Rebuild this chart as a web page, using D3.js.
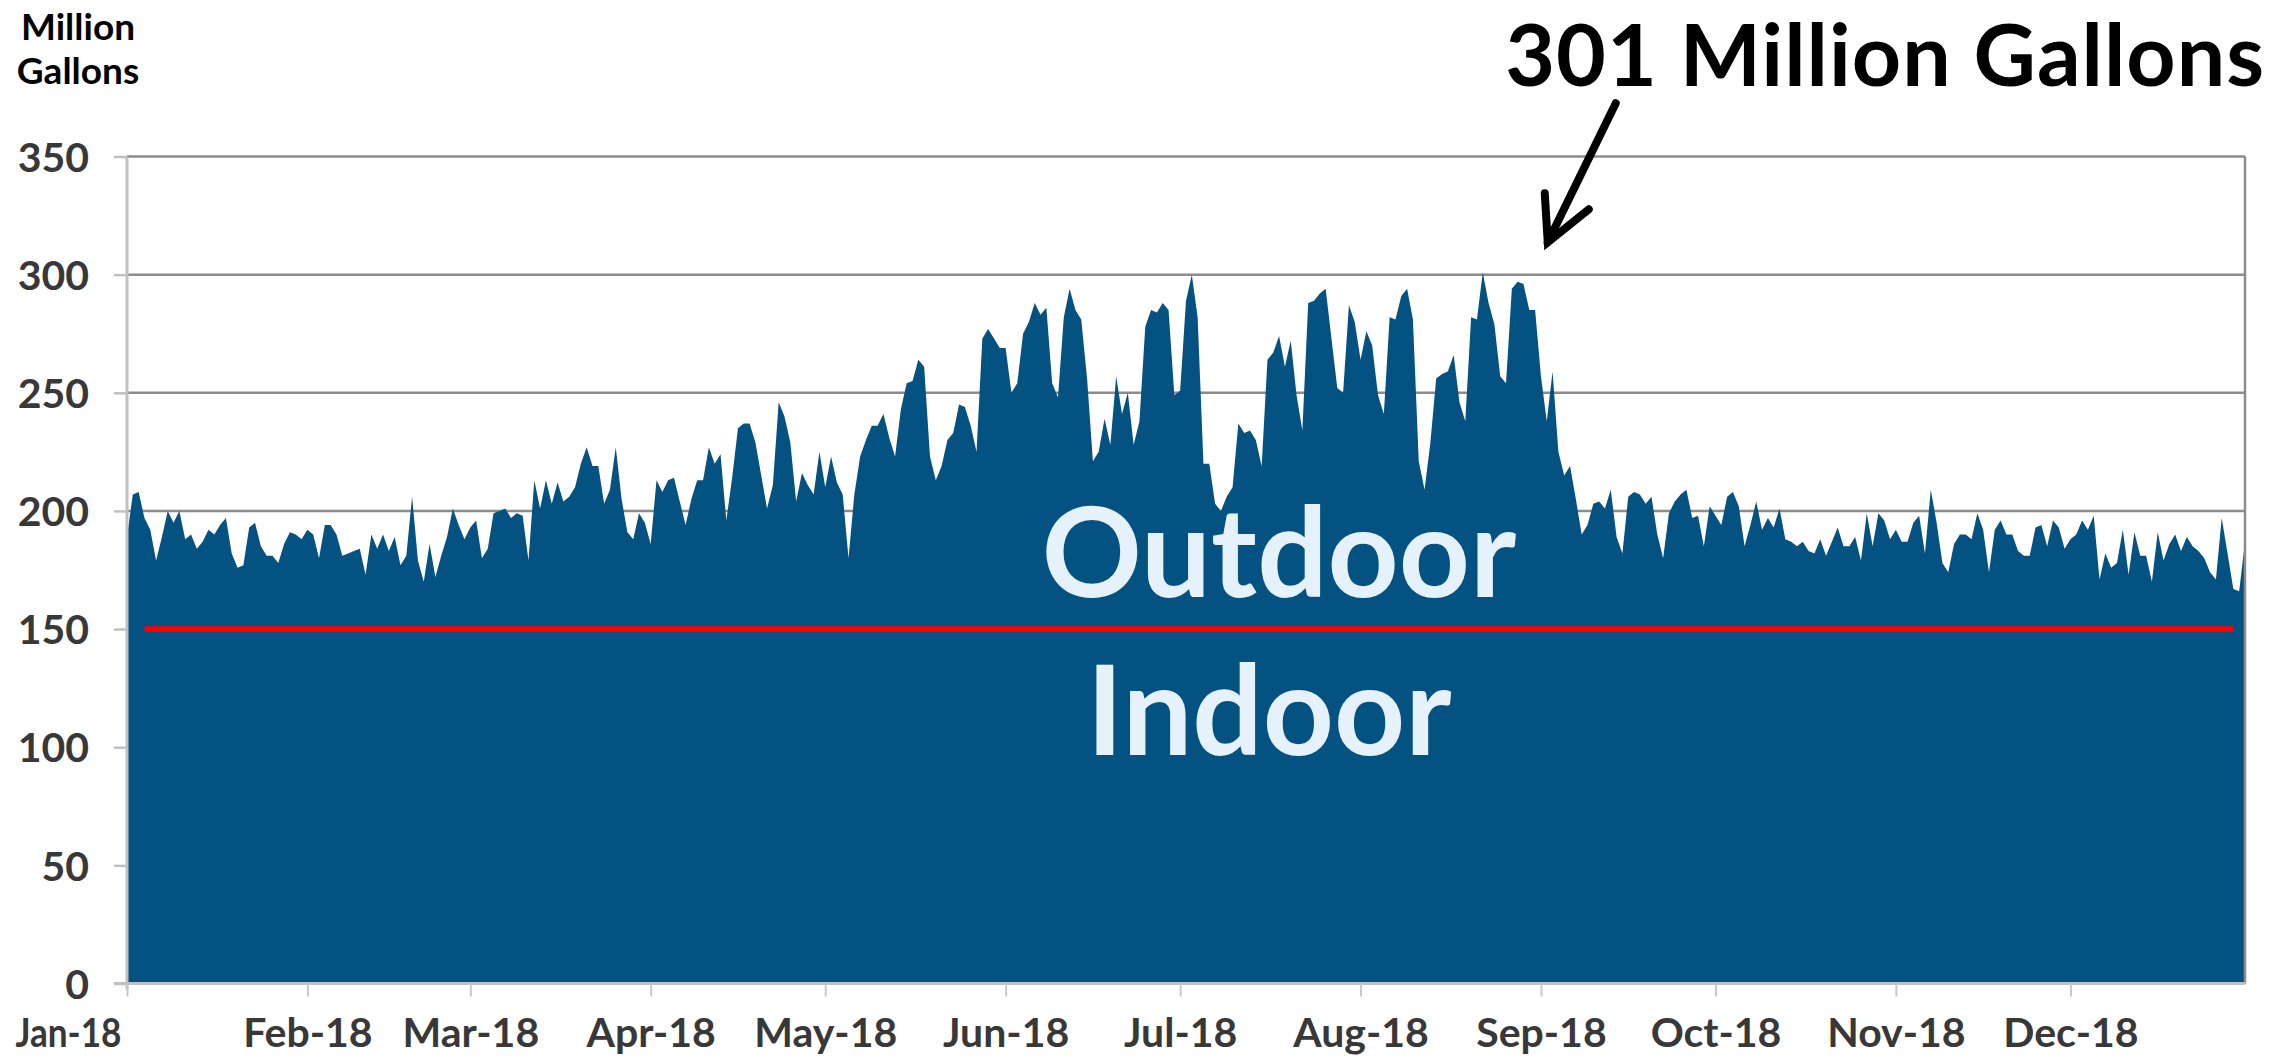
<!DOCTYPE html>
<html>
<head>
<meta charset="utf-8">
<script src="https://cdn.jsdelivr.net/npm/d3@7"></script>
<style>
  html, body { margin: 0; padding: 0; background: #fff; }
  svg { display: block; font-family: Lato, 'Open Sans', sans-serif; }
</style>
</head>
<body>
<svg id="chart"></svg>
<script>
// daily water production, million gallons, 2018 (one array per month)
const jan = [189, 207, 208, 197, 192, 179, 189, 200, 195, 200, 188, 190, 184, 187, 192, 190, 194, 197, 182, 176, 177, 193, 195, 185, 181, 181, 178, 186, 191, 190, 188];
const feb = [192, 190, 180, 194, 194, 190, 181, 182, 183, 184, 173, 190, 184, 190, 183, 189, 177, 181, 206, 179, 170, 186, 172, 181, 189, 201, 194, 188];
const mar = [193, 196, 180, 184, 199, 200, 201, 197, 199, 198, 179, 213, 201, 213, 203, 212, 204, 206, 210, 220, 227, 219, 219, 203, 209, 227, 205, 191, 188, 199, 195];
const apr = [186, 213, 208, 213, 214, 204, 194, 205, 213, 213, 227, 220, 224, 196, 214, 235, 237, 237, 229, 215, 201, 211, 246, 240, 229, 204, 216, 211, 207, 225];
const may = [210, 223, 212, 207, 180, 207, 223, 230, 236, 236, 241, 231, 223, 243, 254, 255, 264, 261, 223, 213, 219, 230, 233, 245, 244, 236, 225, 273, 277, 273, 269];
const jun = [269, 250, 254, 275, 280, 288, 283, 286, 254, 248, 282, 294, 285, 281, 256, 221, 225, 239, 228, 257, 241, 250, 228, 238, 278, 285, 284, 288, 285, 249];
const jul = [251, 289, 300, 282, 220, 220, 203, 200, 206, 210, 237, 233, 234, 230, 219, 264, 267, 274, 261, 272, 249, 234, 288, 289, 292, 294, 273, 252, 250, 287, 280];
const aug = [264, 276, 270, 249, 241, 282, 281, 291, 294, 281, 221, 209, 229, 256, 258, 259, 266, 246, 238, 282, 281, 301, 288, 279, 257, 254, 294, 297, 296, 285, 285];
const sep = [257, 238, 259, 225, 215, 219, 205, 190, 194, 203, 204, 201, 209, 189, 182, 206, 208, 207, 203, 206, 190, 180, 199, 204, 207, 209, 197, 198, 185, 202];
const oct = [198, 194, 206, 208, 202, 185, 194, 204, 192, 197, 193, 201, 188, 187, 185, 187, 183, 182, 188, 181, 187, 193, 185, 185, 189, 179, 199, 185, 199, 196, 188];
const nov = [192, 187, 187, 195, 198, 182, 209, 195, 178, 174, 186, 190, 190, 188, 199, 192, 174, 192, 196, 190, 190, 183, 181, 181, 193, 194, 185, 196, 193, 184];
const dec = [188, 190, 196, 192, 198, 171, 182, 176, 178, 192, 173, 191, 181, 181, 170, 191, 179, 186, 190, 183, 189, 185, 183, 180, 174, 171, 197, 182, 167, 166, 187];

const months = [jan, feb, mar, apr, may, jun, jul, aug, sep, oct, nov, dec];
const monthLabels = ['Jan-18', 'Feb-18', 'Mar-18', 'Apr-18', 'May-18', 'Jun-18', 'Jul-18', 'Aug-18', 'Sep-18', 'Oct-18', 'Nov-18', 'Dec-18'];
const yTicks = [0, 50, 100, 150, 200, 250, 300, 350];

// indoor base demand line
const indoorLevel = 150;
const indoorSpan = ['2018-01-04', '2018-12-29'];

const peakLabel = '301 Million Gallons';
const peakDate = '2018-08-22';
const peakValue = 301;

const config = {
  w: 2277,
  h: 1057,
  left: 127,
  right: 2245,
  top: 156.5,
  bottom: 983.5
};

function createVisualization({w, h, left, right, top, bottom}) {
  const parse = d3.timeParse('%Y-%m-%d');

  const data = months.flatMap((values, m) =>
    values.map((v, d) => ({date: new Date(2018, m, d + 1), value: v})));

  const x = d3.scaleTime()
    .domain([data[0].date, data[data.length - 1].date])
    .range([left, right]);

  const y = d3.scaleLinear()
    .domain([0, 350])
    .range([bottom, top]);

  const svg = d3.select('#chart')
    .attr('width', w)
    .attr('height', h);

  // gridlines (behind the area)
  svg.append('g')
    .selectAll('line')
    .data(yTicks.filter(t => t > 0))
    .join('line')
    .attr('x1', left)
    .attr('x2', right)
    .attr('y1', d => y(d))
    .attr('y2', d => y(d))
    .style('stroke', '#8c8c8c')
    .style('stroke-width', 2.5);

  const area = d3.area()
    .x(d => x(d.date))
    .y0(y(0))
    .y1(d => y(d.value));

  svg.append('path')
    .datum(data)
    .attr('d', area)
    .style('fill', '#045282');

  // right border
  svg.append('line')
    .attr('x1', right)
    .attr('x2', right)
    .attr('y1', y(350))
    .attr('y2', y(0))
    .style('stroke', '#8c8c8c')
    .style('stroke-width', 2.5);

  // y axis
  const yAxis = svg.append('g')
    .attr('transform', `translate(${left},0)`)
    .call(d3.axisLeft(y).tickValues(yTicks).tickSize(13).tickSizeOuter(0).tickPadding(0).tickFormat(d3.format('d')));

  yAxis.select('.domain')
    .attr('d', `M0,${y(350)}V${y(0) + 6}`)
    .style('stroke', '#c0c0c0')
    .style('stroke-width', 3);

  yAxis.selectAll('.tick line')
    .style('stroke', '#c0c0c0')
    .style('stroke-width', 2.5);

  yAxis.selectAll('.tick text')
    .attr('x', -38)
    .attr('dy', '0.36em')
    .style('font-family', 'Lato, sans-serif')
    .style('font-size', '41px')
    .style('font-weight', 'bold')
    .style('fill', '#383838');

  // x axis, one tick per month
  const monthStarts = monthLabels.map((_, i) => new Date(2018, i, 1));

  const xAxis = svg.append('g')
    .attr('transform', `translate(0,${bottom})`)
    .call(d3.axisBottom(x).tickValues(monthStarts).tickSize(13).tickSizeOuter(0).tickFormat((d, i) => monthLabels[i]));

  xAxis.select('.domain')
    .attr('d', `M${left - 13},0H${right}`)
    .style('stroke', '#c0c0c0')
    .style('stroke-width', 3);

  xAxis.selectAll('.tick line')
    .style('stroke', '#c8c8c8')
    .style('stroke-width', 2);

  xAxis.selectAll('.tick text')
    .attr('y', 63)
    .attr('dy', 0)
    .attr('text-anchor', (d, i) => i === 0 ? 'end' : 'middle')
    .attr('x', (d, i) => i === 0 ? -6 : 0)
    .style('font-family', 'Lato, sans-serif')
    .style('font-size', '41px')
    .style('font-weight', 'bold')
    .style('fill', '#383838');

  // first label is squeezed left of the axis, as in the original
  xAxis.select('.tick text')
    .attr('textLength', 106)
    .attr('lengthAdjust', 'spacingAndGlyphs');

  // indoor / outdoor split
  svg.append('line')
    .attr('x1', x(parse(indoorSpan[0])))
    .attr('x2', x(parse(indoorSpan[1])))
    .attr('y1', y(indoorLevel))
    .attr('y2', y(indoorLevel))
    .style('stroke', '#ff0000')
    .style('stroke-width', 5.5);

  svg.append('text')
    .attr('x', 1279)
    .attr('y', 597)
    .attr('text-anchor', 'middle')
    .style('font-size', '124px')
    .style('font-weight', 'bold')
    .style('fill', '#e6f2fb')
    .text('Outdoor');

  svg.append('text')
    .attr('x', 1269)
    .attr('y', 755)
    .attr('text-anchor', 'middle')
    .style('font-size', '124px')
    .style('font-weight', 'bold')
    .style('fill', '#e6f2fb')
    .text('Indoor');

  // unit label
  svg.append('text')
    .attr('text-anchor', 'middle')
    .style('font-size', '37px')
    .style('font-weight', 'bold')
    .style('fill', '#000')
    .selectAll('tspan')
    .data(['Million', 'Gallons'])
    .join('tspan')
    .attr('x', 78)
    .attr('y', (d, i) => 40 + i * 44)
    .text(d => d);

  // peak annotation
  svg.append('text')
    .attr('x', 2265)
    .attr('y', 86)
    .attr('text-anchor', 'end')
    .style('font-size', '86px')
    .style('font-weight', 'bold')
    .style('letter-spacing', '1px')
    .style('fill', '#000')
    .text(peakLabel);

  const tipX = x(parse(peakDate)) + 65;
  const tipY = y(peakValue) - 30;

  const arrow = svg.append('g')
    .style('stroke', '#000')
    .style('stroke-width', 8)
    .style('stroke-linecap', 'round')
    .style('fill', 'none');

  arrow.append('line')
    .attr('x1', tipX + 68)
    .attr('y1', tipY - 139)
    .attr('x2', tipX)
    .attr('y2', tipY);

  arrow.append('path')
    .attr('d', `M${tipX - 3},${tipY - 49}L${tipX},${tipY}L${tipX + 41},${tipY - 33}`);
}

createVisualization(config);
</script>
</body>
</html>
